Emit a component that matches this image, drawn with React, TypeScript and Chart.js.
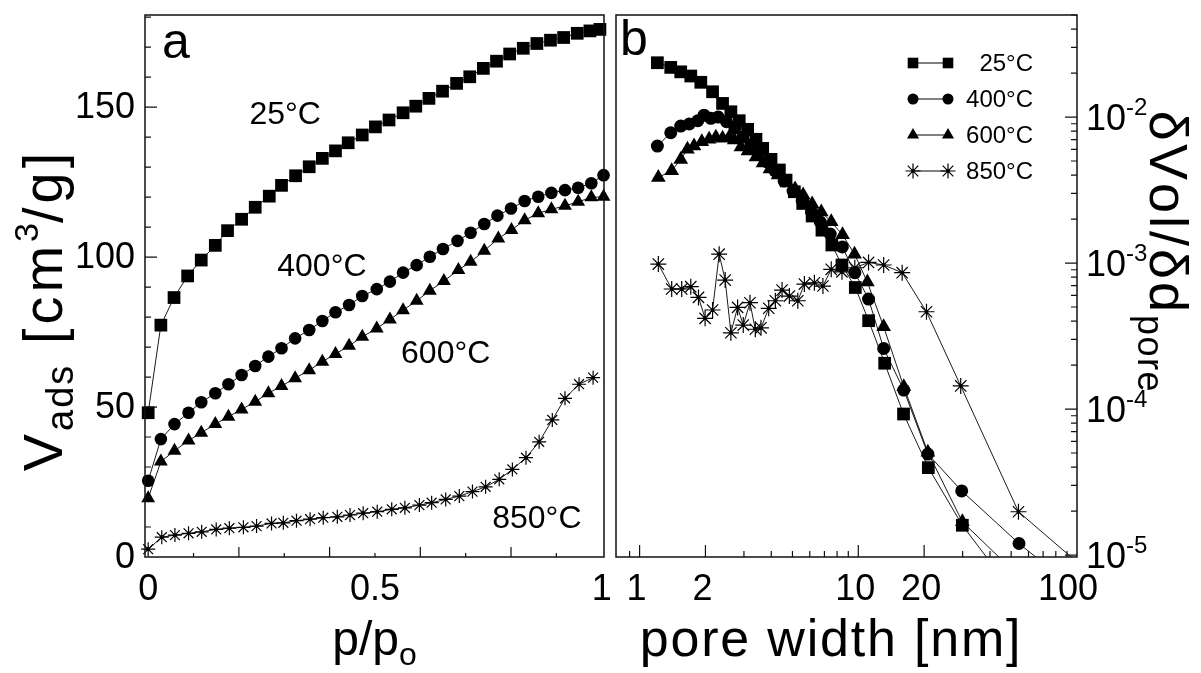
import React, { useEffect, useRef } from 'react';
import { Chart, registerables } from 'chart.js';
import { drawPoint } from 'chart.js/helpers';

Chart.register(...registerables);

const FONT = '"Liberation Sans", Arial, Helvetica, sans-serif';

// ---------- Panel a : adsorption isotherms (p/p0 , V_ads) ----------
const pSq = [0, 0.028, 0.057, 0.087, 0.117, 0.148, 0.175, 0.206, 0.236, 0.267, 0.294, 0.325, 0.355, 0.384, 0.413, 0.441, 0.472, 0.501, 0.531, 0.562, 0.590, 0.619, 0.649, 0.680, 0.709, 0.739, 0.768, 0.797, 0.827, 0.857, 0.887, 0.916, 0.946, 0.974, 0.996];
const vSq = [48.1, 77.3, 86.5, 93.7, 99.0, 103.9, 108.8, 112.6, 116.6, 120.3, 123.9, 127.1, 130.1, 132.9, 135.4, 138.1, 140.7, 143.4, 145.7, 148.1, 150.3, 152.9, 155.3, 157.9, 160.1, 162.9, 165.3, 167.7, 169.6, 171.2, 172.3, 173.2, 174.6, 175.4, 175.9];

const pCi = [0, 0.028, 0.058, 0.089, 0.117, 0.148, 0.177, 0.206, 0.236, 0.265, 0.294, 0.324, 0.355, 0.384, 0.413, 0.443, 0.472, 0.504, 0.533, 0.562, 0.592, 0.621, 0.650, 0.682, 0.711, 0.741, 0.770, 0.800, 0.830, 0.860, 0.889, 0.919, 0.948, 0.977, 1.004];
const vCi = [25.4, 39.3, 44.3, 48.1, 51.6, 54.6, 57.6, 60.7, 63.7, 66.8, 69.6, 72.9, 75.7, 78.7, 81.6, 84.0, 87.0, 89.3, 91.8, 94.8, 97.3, 100.1, 102.7, 105.4, 108.1, 111.0, 113.8, 116.2, 118.7, 120.1, 121.4, 122.3, 123.1, 124.6, 127.3];

const pTr = [0, 0.028, 0.058, 0.089, 0.117, 0.148, 0.177, 0.206, 0.236, 0.265, 0.294, 0.324, 0.355, 0.384, 0.413, 0.443, 0.472, 0.504, 0.533, 0.562, 0.592, 0.621, 0.652, 0.684, 0.711, 0.741, 0.772, 0.801, 0.830, 0.860, 0.889, 0.919, 0.948, 0.977, 1.004];
const vTr = [19.6, 31.8, 35.4, 38.8, 41.4, 44.3, 46.8, 49.2, 51.8, 54.6, 57.0, 59.6, 62.3, 65.1, 67.7, 70.4, 73.4, 76.2, 79.2, 82.3, 85.4, 88.8, 92.0, 95.7, 98.4, 102.1, 106.2, 109.0, 112.3, 114.6, 115.9, 117.1, 118.4, 119.9, 120.1];

const pSt = [0, 0.030, 0.059, 0.089, 0.118, 0.150, 0.179, 0.210, 0.239, 0.272, 0.298, 0.327, 0.357, 0.386, 0.417, 0.445, 0.474, 0.505, 0.537, 0.566, 0.598, 0.625, 0.656, 0.686, 0.715, 0.744, 0.774, 0.803, 0.833, 0.862, 0.891, 0.919, 0.950, 0.981];
const vSt = [2.6, 6.6, 7.3, 7.9, 8.4, 9.2, 9.6, 9.9, 10.3, 11.2, 11.4, 12.1, 12.6, 13.1, 13.4, 14.0, 14.6, 15.1, 15.9, 16.4, 17.3, 18.1, 19.2, 20.3, 21.8, 23.4, 25.9, 29.2, 33.1, 38.4, 45.7, 52.9, 57.6, 59.8];

// ---------- Panel b : pore size distribution (width nm , dVol/dd) ----------
const w25 = [1.206, 1.388, 1.542, 1.714, 1.905, 2.156, 2.395, 2.614, 2.855, 3.119, 3.405, 3.654, 3.99, 4.356, 4.674, 5.1, 5.57, 6.15, 6.82, 7.57, 8.42, 9.69, 11.15, 13.2, 16.1, 20.9, 29.9, 55];
const d25 = [0.02355, 0.02188, 0.0204, 0.0191, 0.0173, 0.0149, 0.0124, 0.01087, 0.00944, 0.00824, 0.00704, 0.0061, 0.00513, 0.00434, 0.0037, 0.00308, 0.00256, 0.0021, 0.00168, 0.00133, 0.00097, 0.00068, 0.000403, 0.000206, 0.0000925, 0.0000397, 0.000016, 0.0000048];

const w400 = [1.206, 1.388, 1.542, 1.687, 1.845, 1.972, 2.117, 2.287, 2.499, 2.728, 2.969, 3.23, 3.515, 3.825, 4.16, 4.577, 5.03, 5.54, 6.1, 6.7, 7.44, 8.45, 9.64, 11.14, 13.06, 16.14, 20.8, 29.7, 54.3, 76];
const d400 = [0.00633, 0.00781, 0.00868, 0.00896, 0.00943, 0.0103, 0.0098, 0.0100, 0.00929, 0.0084, 0.0073, 0.00643, 0.00567, 0.00492, 0.00427, 0.00365, 0.00311, 0.00266, 0.00224, 0.00191, 0.00158, 0.00129, 0.000859, 0.000567, 0.00026, 0.000135, 0.0000492, 0.0000275, 0.000012, 0.000008];

const w600 = [1.218, 1.402, 1.542, 1.655, 1.774, 1.925, 2.08, 2.232, 2.396, 2.568, 2.707, 2.906, 3.129, 3.405, 3.666, 3.945, 4.296, 4.725, 5.14, 5.595, 6.15, 6.77, 7.52, 8.47, 9.61, 11.0, 13.06, 16.14, 20.8, 29.9, 55.3];
const d600 = [0.00386, 0.00429, 0.00513, 0.00601, 0.00633, 0.00677, 0.00704, 0.00726, 0.00715, 0.00726, 0.00696, 0.00623, 0.00585, 0.00532, 0.00484, 0.0044, 0.00401, 0.00353, 0.00321, 0.00292, 0.00254, 0.00224, 0.00192, 0.00156, 0.00115, 0.000741, 0.000366, 0.000142, 0.0000507, 0.0000169, 0.00000695];

const w850 = [1.218, 1.402, 1.558, 1.714, 1.859, 1.993, 2.156, 2.311, 2.462, 2.615, 2.806, 2.978, 3.196, 3.381, 3.589, 3.894, 4.175, 4.481, 4.84, 5.29, 5.67, 6.3, 6.89, 7.52, 8.42, 9.64, 11.14, 13.06, 15.87, 20.5, 29.4, 54, 116];
const d850 = [0.000984, 0.000664, 0.000664, 0.000689, 0.000582, 0.000418, 0.000477, 0.00115, 0.000765, 0.000333, 0.000497, 0.000376, 0.000535, 0.000352, 0.00036, 0.00049, 0.000552, 0.000653, 0.000594, 0.000552, 0.000718, 0.000733, 0.000696, 0.000906, 0.000871, 0.000929, 0.00101, 0.00097, 0.000859, 0.000464, 0.000144, 0.0000198, 0.0000074];

const seriesLabels = ['25°C', '400°C', '600°C', '850°C'];

// annotations of panel a (anchored in data coordinates)
const annoP = [0.302, 0.383, 0.656, 0.857];
const annoV = [147.3, 96.7, 67.7, 12.7];

// tick definitions
const aXTicks = [0.1, 0.2, 0.3, 0.4, 0.5, 0.6, 0.7, 0.8, 0.9];
const aXLongTicks = [0.2, 0.4, 0.6, 0.8];
const aXLabelVals = [0, 0.5, 1];
const aXLabelText = ['0', '0.5', '1'];
const aYTicks = [10, 20, 30, 40, 50, 60, 70, 80, 90, 100, 110, 120, 130, 140, 150, 160, 170, 180];
const aYLabelVals = [0, 50, 100, 150];

const bXMajor = [1, 2, 10, 20];
const bXMinor = [0.9, 3, 4, 5, 6, 7, 8, 9, 30, 40, 50, 60, 70, 80, 90];
const bXLabelVals = [1, 2, 10, 20, 100];
const bYExps = [-2, -3, -4, -5];

type Seg = { t: string; size: number; dy?: number; sp?: number };

function segWidth(ctx: CanvasRenderingContext2D, s: Seg) {
  ctx.font = `${s.size}px ${FONT}`;
  const sp = s.sp || 0;
  let w = 0;
  for (const ch of s.t) w += ctx.measureText(ch).width + sp;
  return w;
}

function drawRich(ctx: CanvasRenderingContext2D, segs: Seg[], x: number, y: number, align: 'left' | 'center' | 'right') {
  const widths = segs.map((s) => segWidth(ctx, s));
  const total = widths.reduce((a, b) => a + b, 0);
  let cx = align === 'center' ? x - total / 2 : align === 'right' ? x - total : x;
  ctx.textAlign = 'left';
  ctx.textBaseline = 'alphabetic';
  segs.forEach((s) => {
    ctx.font = `${s.size}px ${FONT}`;
    const sp = s.sp || 0;
    for (const ch of s.t) {
      ctx.fillText(ch, cx, y + (s.dy || 0));
      cx += ctx.measureText(ch).width + sp;
    }
  });
}

function pts(xs: number[], ys: number[]) {
  return xs.map((x, i) => ({ x, y: ys[i] }));
}

function ds(data: any, style: any, radius: number, clip: any) {
  const isStar = style === 'star';
  return {
    data,
    showLine: true,
    borderColor: '#000',
    backgroundColor: '#000',
    borderWidth: 0.9,
    pointStyle: style,
    pointRadius: radius,
    pointBackgroundColor: '#000',
    pointBorderColor: '#000',
    pointBorderWidth: isStar ? 1.2 : 0,
    tension: 0,
    clip,
  };
}

// draws the small centre dot of the asterisk markers
const starDots = {
  id: 'starDots',
  afterDatasetsDraw(chart: any) {
    const { ctx, chartArea: ca } = chart;
    ctx.save();
    ctx.fillStyle = '#000';
    chart.data.datasets.forEach((d: any, i: number) => {
      if (d.pointStyle !== 'star') return;
      chart.getDatasetMeta(i).data.forEach((el: any) => {
        if (el.x < ca.left - 10 || el.x > ca.right + 1 || el.y > ca.bottom + 1 || el.y < ca.top - 10) return;
        ctx.beginPath();
        ctx.arc(el.x, el.y, 1.9, 0, Math.PI * 2);
        ctx.fill();
      });
    });
    ctx.restore();
  },
};

export default function App() {
  const refA = useRef<HTMLCanvasElement>(null);
  const refB = useRef<HTMLCanvasElement>(null);

  useEffect(() => {
    document.body.style.margin = '0';

    const pluginA = {
      id: 'panelA',
      afterDraw(chart: any) {
        const { ctx, chartArea: ca } = chart;
        const xs = chart.scales.x;
        const ys = chart.scales.y;
        ctx.save();
        ctx.strokeStyle = '#111';
        ctx.lineWidth = 1.5;
        ctx.strokeRect(ca.left, ca.top, ca.right - ca.left, ca.bottom - ca.top);
        ctx.lineWidth = 1.2;
        ctx.beginPath();
        for (const v of aXTicks) {
          const px = xs.getPixelForValue(v);
          const len = aXLongTicks.includes(v) ? 10 : 4;
          ctx.moveTo(px, ca.bottom);
          ctx.lineTo(px, ca.bottom - len);
        }
        for (const v of aYTicks) {
          const py = ys.getPixelForValue(v);
          const len = v % 50 === 0 ? 12 : 6;
          ctx.moveTo(ca.left, py);
          ctx.lineTo(ca.left + len, py);
        }
        ctx.stroke();
        ctx.fillStyle = '#000';
        ctx.font = `36px ${FONT}`;
        ctx.textAlign = 'center';
        ctx.textBaseline = 'alphabetic';
        aXLabelVals.forEach((v, i) => ctx.fillText(aXLabelText[i], xs.getPixelForValue(v), ca.bottom + 43));
        ctx.textAlign = 'right';
        ctx.textBaseline = 'middle';
        aYLabelVals.forEach((v) => ctx.fillText(String(v), ca.left - 10, ys.getPixelForValue(v) + 1));
        ctx.font = `32px ${FONT}`;
        ctx.textAlign = 'center';
        seriesLabels.forEach((t, i) => ctx.fillText(t, xs.getPixelForValue(annoP[i]), ys.getPixelForValue(annoV[i])));
        ctx.font = `50px ${FONT}`;
        ctx.textAlign = 'left';
        ctx.textBaseline = 'alphabetic';
        ctx.fillText('a', ca.left + 17, ca.top + 43);
        drawRich(ctx, [{ t: 'p/p', size: 48 }, { t: 'o', size: 32, dy: 10 }], (ca.left + ca.right) / 2, 655, 'center');
        ctx.save();
        ctx.translate(62, 310);
        ctx.rotate(-Math.PI / 2);
        drawRich(ctx, [
          { t: 'V', size: 56, sp: 3 },
          { t: 'ads', size: 38, dy: 11, sp: 2 },
          { t: ' [cm', size: 56, sp: 4 },
          { t: '3', size: 34, dy: -24 },
          { t: '/g]', size: 56, sp: 4 },
        ], 0, 0, 'center');
        ctx.restore();
        ctx.restore();
      },
    };

    const pluginB = {
      id: 'panelB',
      afterDraw(chart: any) {
        const { ctx, chartArea: ca } = chart;
        const xs = chart.scales.x;
        const ys = chart.scales.y;
        ctx.save();
        ctx.strokeStyle = '#111';
        ctx.lineWidth = 1.5;
        ctx.strokeRect(ca.left, ca.top, ca.right - ca.left, ca.bottom - ca.top);
        ctx.lineWidth = 1.2;
        ctx.beginPath();
        for (const v of bXMajor) {
          const px = xs.getPixelForValue(v);
          ctx.moveTo(px, ca.bottom);
          ctx.lineTo(px, ca.bottom - 12);
        }
        for (const v of bXMinor) {
          const px = xs.getPixelForValue(v);
          ctx.moveTo(px, ca.bottom);
          ctx.lineTo(px, ca.bottom - 6);
        }
        for (const e of [-2, -3, -4, -5, -6]) {
          for (let m = 1; m <= 9; m++) {
            const val = m * Math.pow(10, e);
            if (val < ys.min || val > ys.max) continue;
            const py = ys.getPixelForValue(val);
            const len = m === 1 ? 12 : 6;
            ctx.moveTo(ca.right, py);
            ctx.lineTo(ca.right - len, py);
          }
        }
        ctx.stroke();
        ctx.fillStyle = '#000';
        ctx.font = `36px ${FONT}`;
        ctx.textAlign = 'center';
        ctx.textBaseline = 'alphabetic';
        bXLabelVals.forEach((v) => {
          const px = Math.min(xs.getPixelForValue(v), ca.right - 6);
          ctx.fillText(String(v), px - 3, ca.bottom + 43);
        });
        bYExps.forEach((e) => {
          const py = ys.getPixelForValue(Math.pow(10, e));
          drawRich(ctx, [{ t: '10', size: 36 }, { t: String(e), size: 24, dy: -15 }], ca.right + 9, py + 13, 'left');
        });
        // panel letter
        ctx.font = `50px ${FONT}`;
        ctx.textAlign = 'left';
        ctx.fillText('b', ca.left + 4, ca.top + 40);
        // legend
        const styles: any[] = ['rect', 'circle', 'triangle', 'star'];
        const radii = [7.5, 5.5, 7, 7.5];
        styles.forEach((st, i) => {
          const y = ca.top + 48 + i * 36;
          const x1 = ca.left + 297;
          const x2 = ca.left + 332;
          ctx.strokeStyle = '#000';
          ctx.lineWidth = 1;
          ctx.beginPath();
          ctx.moveTo(x1, y);
          ctx.lineTo(x2, y);
          ctx.stroke();
          ctx.fillStyle = '#000';
          ctx.lineWidth = 1.2;
          const bw = st === 'star' ? 1.2 : 0;
          drawPoint(ctx, { pointStyle: st, radius: radii[i], rotation: 0, borderWidth: bw } as any, x1, y);
          drawPoint(ctx, { pointStyle: st, radius: radii[i], rotation: 0, borderWidth: bw } as any, x2, y);
          if (st === 'star') {
            [x1, x2].forEach((xx) => { ctx.beginPath(); ctx.arc(xx, y, 1.8, 0, Math.PI * 2); ctx.fill(); });
          }
          ctx.fillStyle = '#000';
          ctx.font = `24px ${FONT}`;
          ctx.textAlign = 'right';
          ctx.textBaseline = 'middle';
          ctx.fillText(seriesLabels[i], ca.left + 417, y + 1);
        });
        // axis titles
        drawRich(ctx, [{ t: 'pore width [nm]', size: 52, sp: 1.8 }], 831 - 606, 656, 'center');
        ctx.save();
        ctx.translate(ca.right + 73, 252);
        ctx.rotate(Math.PI / 2);
        drawRich(ctx, [{ t: 'δVol/δd', size: 54, sp: 3 }, { t: 'pore', size: 36, dy: 12, sp: 1.5 }], 0, 0, 'center');
        ctx.restore();
        ctx.restore();
      },
    };

    const clipA = false;
    const chartA = new Chart(refA.current!, {
      type: 'scatter',
      data: {
        datasets: [
          ds(pts(pSq, vSq), 'rect', 9, clipA),
          ds(pts(pCi, vCi), 'circle', 6.3, clipA),
          ds(pts(pTr, vTr), 'triangle', 8, clipA),
          ds(pts(pSt, vSt), 'star', 7, clipA),
        ] as any,
      },
      options: {
        animation: false,
        responsive: false,
        events: [],
        layout: { padding: { left: 0, right: 8, top: 15, bottom: 0 }, autoPadding: false },
        plugins: { legend: { display: false }, tooltip: { enabled: false } },
        scales: {
          x: {
            type: 'linear', min: -0.007, max: 1.005,
            grid: { display: false }, border: { display: false }, ticks: { display: false },
            afterFit: (s: any) => { s.height = 116; },
          },
          y: {
            type: 'linear', min: 0, max: 180.7,
            grid: { display: false }, border: { display: false }, ticks: { display: false },
            afterFit: (s: any) => { s.width = 145; },
          },
        },
      } as any,
      plugins: [starDots, pluginA],
    });

    const clipB = { left: 20, top: 20, right: 0, bottom: 0 };
    const chartB = new Chart(refB.current!, {
      type: 'scatter',
      data: {
        datasets: [
          ds(pts(w25, d25), 'rect', 9, clipB),
          ds(pts(w400, d400), 'circle', 6.5, clipB),
          ds(pts(w600, d600), 'triangle', 8.5, clipB),
          ds(pts(w850, d850), 'star', 8, clipB),
        ] as any,
      },
      options: {
        animation: false,
        responsive: false,
        events: [],
        layout: { padding: { left: 10, right: 0, top: 15, bottom: 0 }, autoPadding: false },
        plugins: { legend: { display: false }, tooltip: { enabled: false } },
        scales: {
          x: {
            type: 'logarithmic', min: 0.78, max: 100,
            grid: { display: false }, border: { display: false }, ticks: { display: false },
            afterFit: (s: any) => { s.height = 116; },
          },
          y: {
            type: 'logarithmic', position: 'right', min: 9.7e-6, max: 0.05,
            grid: { display: false }, border: { display: false }, ticks: { display: false },
            afterFit: (s: any) => { s.width = 124; },
          },
        },
      } as any,
      plugins: [starDots, pluginB],
    });

    return () => {
      chartA.destroy();
      chartB.destroy();
    };
  }, []);

  return (
    <div style={{ position: 'relative', width: 1201, height: 673, background: '#fff', overflow: 'hidden' }}>
      <canvas ref={refA} width={612} height={673} style={{ position: 'absolute', left: 0, top: 0, width: 612, height: 673 }} />
      <canvas ref={refB} width={595} height={673} style={{ position: 'absolute', left: 606, top: 0, width: 595, height: 673 }} />
    </div>
  );
}
